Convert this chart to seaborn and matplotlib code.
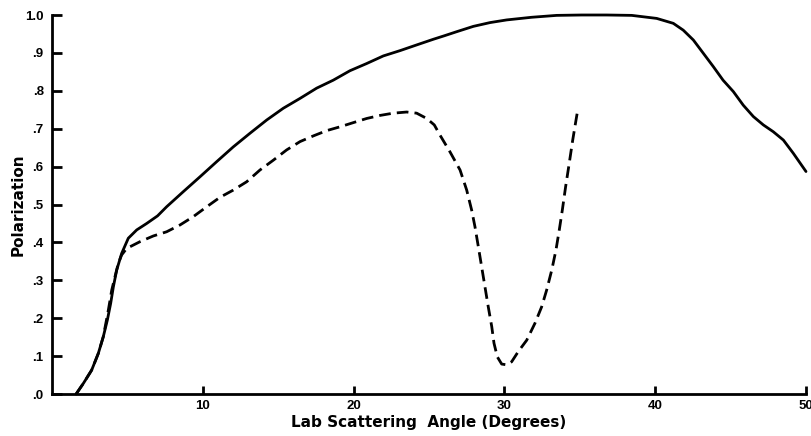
import matplotlib
matplotlib.use("Agg")
import matplotlib.pyplot as plt
import seaborn as sns
import pandas as pd

# Solid curve
solid_x = [1.60, 2.08, 2.63, 3.07, 3.40, 3.67, 3.89, 4.07, 4.29, 4.62, 5.06, 5.62, 6.28,
           7.00, 7.60, 8.71, 9.81, 10.92, 12.02, 13.13, 14.24, 15.34, 16.45, 17.55,
           18.65, 19.76, 20.87, 21.97, 23.08, 24.18, 25.29, 26.00, 26.84, 27.94, 29.05,
           30.15, 31.81, 33.47, 35.12, 36.78, 38.44, 40.10, 41.20, 41.86, 42.53, 43.19,
           43.85, 44.50, 45.18, 45.84, 46.51, 47.17, 47.83, 48.50, 49.16, 50.00]
solid_y = [0.000, 0.028, 0.063, 0.107, 0.151, 0.195, 0.239, 0.283, 0.327, 0.371, 0.411, 0.433, 0.450,
           0.470, 0.494, 0.534, 0.573, 0.613, 0.652, 0.688, 0.723, 0.754, 0.780, 0.807,
           0.828, 0.853, 0.872, 0.892, 0.906, 0.921, 0.936, 0.945, 0.956, 0.970, 0.980,
           0.987, 0.994, 0.999, 1.000, 1.000, 0.999, 0.991, 0.978, 0.960, 0.934, 0.899,
           0.864, 0.828, 0.798, 0.762, 0.732, 0.710, 0.692, 0.670, 0.635, 0.587]

# Dashed curve
dash_x = [1.60, 2.08, 2.63, 3.07, 3.40, 3.74, 3.96, 4.18, 4.40, 4.62, 4.95, 5.84, 6.72,
          7.60, 8.49, 9.37, 10.26, 11.14, 12.02, 12.91, 13.79, 14.68, 15.56, 16.45,
          17.33, 18.22, 19.10, 19.98, 20.87, 21.75, 22.63, 23.52, 24.18, 24.85, 25.35,
          25.73, 26.39, 27.06, 27.50, 27.83, 28.05, 28.27, 28.49, 28.71, 28.93, 29.16,
          29.31, 29.53, 29.82, 30.15, 30.48, 30.92, 31.48, 32.03, 32.47, 32.80, 33.14,
          33.42, 33.64, 33.84, 34.06, 34.30, 34.53, 34.75, 34.86]
dash_y = [0.000, 0.028, 0.063, 0.107, 0.151, 0.222, 0.274, 0.310, 0.345, 0.367, 0.384, 0.402, 0.417,
          0.428, 0.446, 0.468, 0.494, 0.519, 0.538, 0.560, 0.591, 0.617, 0.644, 0.666,
          0.681, 0.695, 0.705, 0.716, 0.727, 0.735, 0.741, 0.744, 0.741, 0.727, 0.710,
          0.683, 0.639, 0.591, 0.538, 0.485, 0.441, 0.389, 0.336, 0.283, 0.230, 0.178,
          0.134, 0.098, 0.079, 0.077, 0.085, 0.112, 0.142, 0.187, 0.230, 0.274, 0.327,
          0.380, 0.433, 0.485, 0.547, 0.609, 0.670, 0.723, 0.749]

x_ticks = [10, 20, 30, 40, 50]
x_tick_labels = ["10", "20", "30", "40", "50"]
y_ticks = [0.0, 0.1, 0.2, 0.3, 0.4, 0.5, 0.6, 0.7, 0.8, 0.9, 1.0]
y_tick_labels = [".0", ".1", ".2", ".3", ".4", ".5", ".6", ".7", ".8", ".9", "1.0"]

sns.set_style("ticks")
plt.rcParams['font.family'] = ['DejaVu Sans']
plt.rcParams['text.color'] = 'black'
plt.rcParams['axes.labelcolor'] = 'black'
plt.rcParams['xtick.color'] = 'black'
plt.rcParams['ytick.color'] = 'black'

df_s = pd.DataFrame({"x": solid_x, "y": solid_y})
df_d = pd.DataFrame({"x": dash_x, "y": dash_y})

fig = plt.figure(figsize=(8.12, 4.36), dpi=100)
ax = fig.add_axes([52/812, 1 - 394/436, (806 - 52)/812, (394 - 15)/436])

sns.lineplot(data=df_s, x="x", y="y", ax=ax, color="black", linewidth=2.0,
             sort=False, estimator=None)
sns.lineplot(data=df_d, x="x", y="y", ax=ax, color="black", linewidth=2.0,
             sort=False, estimator=None)
for ln in ax.lines:
    ln.set_clip_on(False)
    ln.set_solid_joinstyle("round")
    ln.set_solid_capstyle("round")
ax.lines[-1].set_dashes([4.2, 2.2])

ax.set_xlim(0, 50)
ax.set_ylim(0, 1.0)
ax.set_xticks(x_ticks)
ax.set_xticklabels(x_tick_labels)
ax.set_yticks(y_ticks)
ax.set_yticklabels(y_tick_labels)
for s in ["top", "right"]:
    ax.spines[s].set_visible(False)
for s in ["left", "bottom"]:
    ax.spines[s].set_linewidth(2.0)
    ax.spines[s].set_color("black")
ax.tick_params(axis="y", direction="in", length=7, width=2, pad=6)
ax.tick_params(axis="x", direction="in", length=6, width=2, pad=4)
for lbl in ax.get_xticklabels() + ax.get_yticklabels():
    lbl.set_fontweight("bold")
    lbl.set_fontfamily(["Liberation Sans", "DejaVu Sans"])
    lbl.set_fontsize(9.5)
ax.set_xlabel("Lab Scattering  Angle (Degrees)", fontsize=11, fontweight="bold")
ax.set_ylabel("Polarization", fontsize=11, fontweight="bold")
ax.xaxis.set_label_coords(0.5, (394 - 415) / 379)
ax.xaxis.label.set_va("top")
ax.yaxis.set_label_coords((26 - 52) / 754, 0.5)

fig.savefig("out.png", dpi=100)
